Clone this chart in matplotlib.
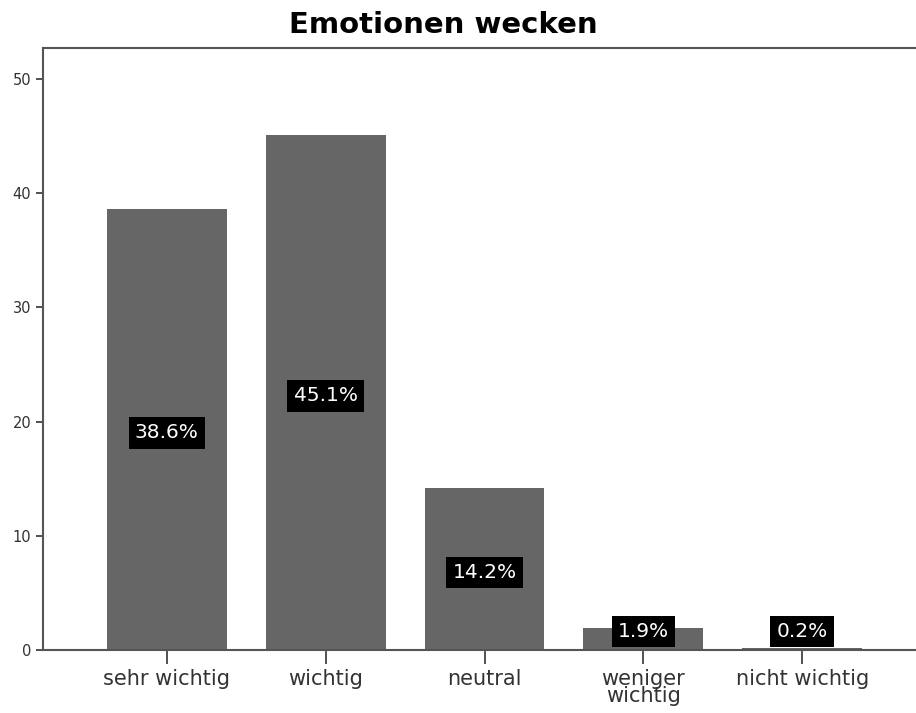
import matplotlib
matplotlib.use("Agg")
import matplotlib.pyplot as plt

categories = ["sehr wichtig", "wichtig", "neutral", "weniger\nwichtig", "nicht wichtig"]
values = [38.6, 45.1, 14.2, 1.9, 0.2]
labels = ["38.6%", "45.1%", "14.2%", "1.9%", "0.2%"]

fig = plt.figure(figsize=(9.16, 7.13), dpi=100)
ax = fig.add_axes([43/916, 1-650/713, 883/916, (650-48)/713])

x = range(len(values))
ax.bar(x, values, width=0.755, color="#666666", edgecolor="none")

for i, v in enumerate(values):
    ax.text(i, max(v/2 - 0.3, 1.6), labels[i], ha="center", va="center", color="white",
            fontsize=14.5, bbox=dict(facecolor="black", edgecolor="none", pad=4.5))

ax.set_xlim(-0.78, 4.78)
ax.set_ylim(0, 52.7)
ax.set_yticks([0, 10, 20, 30, 40, 50])
ax.set_xticks(list(x))
ax.set_xticklabels(categories, fontsize=15, linespacing=0.8, color="#222222")
ax.tick_params(axis="y", labelsize=10.5, colors="#333333", length=5, width=1.2)
ax.tick_params(axis="x", length=10, width=1.2, colors="#333333", pad=4)
for s in ["left", "top", "bottom"]:
    ax.spines[s].set_color("#555555")
    ax.spines[s].set_linewidth(1.5)
ax.spines["right"].set_visible(False)

fig.text(443/916, 1-25/713, "Emotionen wecken", ha="center", va="center",
         fontsize=21, fontweight="bold")

fig.savefig("out.png", dpi=100)
